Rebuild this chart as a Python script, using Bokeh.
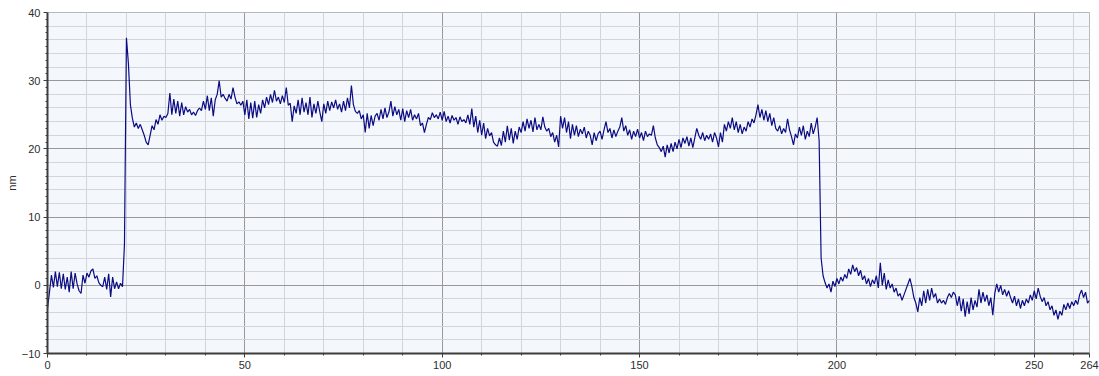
from bokeh.plotting import figure
from bokeh.models import Range1d, FixedTicker
from bokeh.embed import file_html
from bokeh.resources import INLINE

# Height profile (nm) sampled every 0.5 along the scan line
x_step = 0.5

base_left = [
    -3.4, -1.0, 1.5, -0.3, 2.0, -0.2, 1.9, -0.5, 1.7, -0.6,
    1.2, -1.0, 2.0, -0.5, 1.8, 0.2, -0.8, -1.2, 1.5, 0.3,
    1.8, 1.2, 2.1, 2.4, 1.0, 1.4, 0.4, 0.0, -0.2, 1.2,
    -0.6, 1.7, -1.7, 1.2, -0.5, 0.5, -0.5, 0.3, -0.2, 6.0,
]

plateau = [
    # 20 - 29.5
    36.3, 32.5, 26.5, 24.5, 23.2, 23.8, 23.0, 23.6, 22.8, 22.0,
    21.0, 20.6, 22.0, 23.4, 22.8, 24.3, 23.6, 25.0, 24.2, 24.8,
    # 30 - 39.5
    24.6, 25.2, 28.2, 25.0, 27.3, 25.2, 27.0, 24.8, 26.8, 25.0,
    26.2, 25.4, 25.8, 25.0, 25.4, 24.9, 25.6, 26.0, 25.6, 27.0,
    # 40 - 49.5
    25.8, 27.8, 25.6, 27.5, 24.8, 27.2, 28.0, 30.0, 27.6, 28.0,
    27.4, 27.0, 28.0, 27.3, 29.0, 27.6, 26.6, 26.9, 26.4, 27.0,
    # 50 - 59.5
    25.0, 27.2, 24.4, 26.8, 24.5, 27.0, 24.6, 26.5, 25.2, 27.2,
    26.0, 27.6, 26.5, 28.0, 26.8, 28.6, 27.0, 27.6, 26.6, 27.8,
    # 60 - 69.5
    26.8, 29.0, 26.4, 26.7, 24.0, 26.3, 25.2, 27.2, 25.0, 27.5,
    25.4, 26.8, 25.0, 27.6, 24.6, 26.6, 25.2, 27.0, 25.4, 24.0,
    # 70 - 79.5
    26.6, 25.2, 27.0, 25.6, 26.9, 26.0, 27.2, 25.8, 26.6, 25.4,
    27.0, 25.6, 27.5, 26.0, 29.3, 26.5, 25.5, 25.2, 25.6, 24.4,
    # 80 - 89.5
    25.0, 22.4, 25.2, 23.0, 24.9, 23.4, 24.8, 25.2, 24.2, 25.8,
    24.4, 26.0, 24.6, 25.4, 27.0, 24.8, 26.2, 25.0, 25.8, 24.2,
    # 90 - 99.5
    25.9, 24.0, 25.6, 24.6, 25.8, 24.2, 25.0, 24.4, 25.2, 23.4,
    23.8, 22.4, 23.6, 24.6, 24.3, 25.3, 24.6, 25.0, 24.4, 25.4,
    # 100 - 109.5
    24.2, 25.5, 24.0, 24.8, 23.8, 24.9, 24.2, 24.6, 23.6, 24.7,
    24.0, 24.3, 23.8, 25.0, 23.6, 25.9, 23.2, 24.8, 22.4, 24.2,
    # 110 - 119.5
    22.0, 23.8, 21.5, 23.0, 21.9, 22.4, 21.0, 20.6, 20.4, 21.6,
    20.5, 22.6, 21.0, 23.4, 21.3, 23.0, 20.8, 22.6, 21.4, 23.2,
    # 120 - 129.5
    22.4, 24.0, 22.6, 24.4, 23.0, 24.2, 22.5, 24.6, 22.8, 23.6,
    22.8, 24.7, 23.2, 22.6, 23.0, 21.8, 22.4, 21.0, 22.0, 20.3,
    # 130 - 139.5
    24.8, 23.0, 24.6, 22.4, 24.0, 21.5, 23.6, 22.0, 23.4, 21.8,
    22.9, 22.2, 23.2, 21.6, 22.6, 22.0, 20.6, 22.4, 21.2, 22.2,
    # 140 - 149.5
    22.6, 21.4, 22.8, 24.0, 22.4, 23.0, 21.6, 22.8, 21.8, 22.6,
    23.2, 24.6, 22.6, 23.4, 22.0, 22.8, 21.4, 22.6, 21.8, 22.9,
    # 150 - 159.5
    21.6, 22.4, 21.2, 22.6, 21.8, 22.2, 22.0, 23.4, 21.6, 20.6,
    20.2, 19.6, 20.4, 18.8, 20.6, 19.4, 20.8, 19.6, 21.0, 20.0,
    # 160 - 169.5
    21.4, 20.2, 21.6, 20.8, 21.8, 20.4, 21.6, 20.2, 21.6, 23.0,
    22.0, 21.4, 22.4, 21.2, 22.0, 21.4, 22.2, 21.0, 22.4, 21.6,
    # 170 - 179.5
    20.3, 22.4, 21.0, 23.6, 22.6, 24.0, 23.0, 24.6, 22.8, 24.0,
    22.4, 23.6, 22.2, 23.2, 22.6, 24.0, 23.2, 24.4, 23.8, 25.0,
    # 180 - 189.5
    26.5, 24.6, 25.8, 24.2, 25.6, 24.0, 25.2, 23.4, 24.6, 23.0,
    22.6, 23.4, 22.2, 23.0, 22.4, 24.4, 22.8, 21.8, 20.6, 22.2,
    # 190 - 195.5
    21.6, 23.2, 22.0, 23.4, 21.4, 22.6, 21.8, 23.8, 22.2, 23.2,
    24.6, 21.2,
]

base_right = [
    # 196 - 199.5
    4.0, 1.4, 0.4, -0.4, 0.2, -1.0, 0.6, -0.2,
    # 200 - 209.5
    1.0, 0.2, 1.2, 0.6, 1.6, 1.0, 2.4, 1.6, 3.0, 2.0,
    2.6, 1.4, 2.2, 0.8, 1.4, 0.2, 1.0, -0.2, 0.8, 0.2,
    # 210 - 219.5
    1.4, -0.4, 3.3, 0.0, 1.8, -0.6, 0.8, -0.4, 0.2, -1.0,
    -0.4, -1.6, -1.2, -2.2, -1.4, -0.6, 0.2, 1.0, -0.2, -1.8,
    # 220 - 229.5
    -2.6, -3.9, -1.8, -3.0, -0.8, -2.6, -0.6, -2.2, -0.4, -1.8,
    -1.2, -2.6, -2.0, -2.6, -2.2, -2.8, -1.8, -1.2, -1.8, -1.0,
    # 230 - 239.5
    -1.4, -3.0, -1.6, -3.8, -2.0, -4.6, -2.4, -4.2, -1.8, -3.6,
    -2.2, -3.2, -0.6, -2.6, -1.0, -2.4, -1.4, -3.0, -1.8, -4.4,
    # 240 - 249.5
    -1.2, 0.2, -1.0, 0.0, -1.4, -0.6, -1.6, -0.8, -1.8, -2.6,
    -1.6, -3.0, -2.0, -3.4, -2.2, -3.0, -2.0, -2.6, -1.4, -2.2,
    # 250 - 259.5
    -0.8, -2.0, -0.4, -1.6, -2.4, -1.8, -3.0, -2.4, -3.6, -3.0,
    -4.4, -3.6, -5.0, -3.8, -4.4, -2.8, -3.6, -2.6, -3.4, -2.4,
    # 260 - 264
    -3.0, -2.2, -2.8, -1.4, -0.7, -1.8, -1.0, -2.6, -2.2,
]

heights = base_left + plateau + base_right
distance = [i * x_step for i in range(len(heights))]

x_major = [0, 50, 100, 150, 200, 250, 264]
x_minor = [v for v in range(10, 264, 10) if v % 50 != 0]
y_major = [-10, 0, 10, 20, 30, 40]
y_axis_minor = [v for v in range(-10, 41) if v % 10 != 0]
y_grid_minor = [v for v in range(-10, 41, 2) if v % 10 != 0]

p = figure(
    width=1099, height=376,
    output_backend="svg", toolbar_location=None,
    x_range=Range1d(0, 264), y_range=Range1d(-10, 40),
    min_border_left=47, min_border_right=10,
    min_border_top=12, min_border_bottom=23,
)
p.background_fill_color = "#f4f8fd"
p.border_fill_color = "white"
p.outline_line_color = "#b8b8b8"
p.outline_line_width = 1

# axes
for ax in (p.xaxis[0], p.yaxis[0]):
    ax.axis_line_color = "#3c3c3c"
    ax.axis_line_width = 2
    ax.major_tick_line_color = "#3c3c3c"
    ax.minor_tick_line_color = "#3c3c3c"
    ax.major_tick_in = 0
    ax.major_tick_out = 4
    ax.minor_tick_in = 0
    ax.minor_tick_out = 2
    ax.major_label_text_font = "Liberation Sans"
    ax.major_label_text_font_size = "11px"
    ax.major_label_text_color = "#2e2e2e"
    ax.major_label_standoff = 3

p.xaxis.ticker = FixedTicker(ticks=x_major, minor_ticks=x_minor)
p.yaxis.ticker = FixedTicker(ticks=y_major, minor_ticks=y_axis_minor)
p.yaxis.axis_label = "nm"
p.yaxis.axis_label_text_font = "Liberation Sans"
p.yaxis.axis_label_text_font_size = "11px"
p.yaxis.axis_label_text_font_style = "normal"
p.yaxis.axis_label_text_color = "#2e2e2e"
p.yaxis.axis_label_standoff = 1

# grid
p.xgrid.ticker = FixedTicker(ticks=x_major, minor_ticks=x_minor)
p.ygrid.ticker = FixedTicker(ticks=y_major, minor_ticks=y_grid_minor)
for g in (p.xgrid[0], p.ygrid[0]):
    g.grid_line_color = "#999999"
    g.grid_line_width = 1
    g.minor_grid_line_color = "#d2d6dc"
    g.minor_grid_line_width = 1

p.line(distance, heights, line_color="#0c0c82", line_width=1.2)

open("out.html", "w").write(file_html(p, INLINE))
